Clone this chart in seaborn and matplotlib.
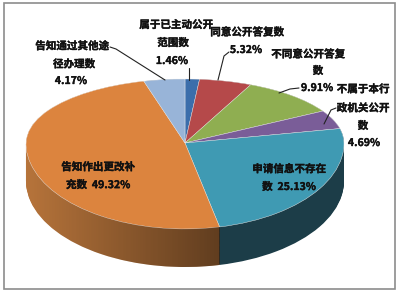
import numpy as np
import matplotlib
matplotlib.use("Agg")
import matplotlib.pyplot as plt
import seaborn as sns
from matplotlib.patches import Rectangle, Polygon
import matplotlib.patheffects as pe

sns.set_theme(style="white")
plt.rcParams['font.family'] = ['Noto Sans CJK SC', 'DejaVu Sans']

# ---- data ----
categories = ["属于已主动公开范围数", "同意公开答复数", "不同意公开答复数",
              "不属于本行政机关公开数", "申请信息不存在数", "告知作出更改补充数",
              "告知通过其他途径办理数"]
values = [1.46, 5.32, 9.91, 4.69, 25.13, 49.32, 4.17]
label_lines = [
    ["属于已主动公开", "范围数", "1.46%"],
    ["同意公开答复数", "5.32%"],
    ["不同意公开答复", "数", "9.91%"],
    ["不属于本行", "政机关公开", "数", "4.69%"],
    ["申请信息不存在", "数  25.13%"],
    ["告知作出更改补", "充数  49.32%"],
    ["告知通过其他途", "径办理数", "4.17%"],
]

top_colors = ['#3b6eab', '#b5494a', '#8fae51', '#7a5d98', '#3f9ab3', '#dc843e', '#98b4d8']
side_colors = ['#24446b', '#72292a', '#56692f', '#4a375d', '#1c3d48', '#c07a3e', '#5d7087']

# ---- geometry in pixels (perspective: far half shorter than near half) ----
W, H = 400, 293
cx, cy, rx = 185, 143, 159
ry_far, ry_near = 64, 86
depth_px = 38
depth = depth_px / ry_near

def fwd(y):
    y = np.asarray(y, dtype=float)
    return np.where(y >= 0, ry_far * y, ry_near * y)

def inv(v):
    v = np.asarray(v, dtype=float)
    return np.where(v >= 0, v / ry_far, v / ry_near)

fig = plt.figure(figsize=(W / 100, H / 100), dpi=100)
fig.patch.set_facecolor('white')
ax = fig.add_axes([0, 0, 1, 1])

# side (extrusion) via stacked pies
for d in np.linspace(depth, 0.0, 45):
    ax.pie(values, colors=side_colors, startangle=90, counterclock=False,
           center=(0, -d), radius=1, frame=True,
           wedgeprops=dict(linewidth=0, antialiased=True))

# top face
wedges, _ = ax.pie(values, colors=top_colors, startangle=90, counterclock=False,
                   center=(0, 0), radius=1, frame=True,
                   wedgeprops=dict(linewidth=0.3, edgecolor='#f0f0f0'))
for w in wedges:
    w.set_zorder(2)

ax.set_aspect('auto')
ax.set_yscale('function', functions=(fwd, inv))
ax.set_xlim(-cx / rx, (W - cx) / rx)
ax.set_ylim(float(inv(cy - H)), float(inv(cy)))
ax.axis('off')

# gradient shading on the front-left side (orange slice)
cum_before = sum(values[:5]) / 100.0
xb = np.sin(2 * np.pi * cum_before)
t = np.linspace(np.pi, 2 * np.pi, 300)
band = np.concatenate([np.c_[np.cos(t), np.sin(t)],
                       np.c_[np.cos(t[::-1]), np.sin(t[::-1]) - depth]])
poly = Polygon(band, closed=True, transform=ax.transData, facecolor='none', edgecolor='none')

ax2 = fig.add_axes([0, 0, 1, 1])
ax2.set_xlim(0, W)
ax2.set_ylim(H, 0)
ax2.axis('off')
ax2.patch.set_visible(False)
x0p, xbp = cx - rx, cx + rx * xb
gx = np.linspace(0, 1, 256)
img = np.zeros((2, 256, 4))
img[..., 3] = (0.05 + 0.45 * gx)[None, :]
im = ax2.imshow(img, extent=[x0p, xbp, H, 100], aspect='auto', interpolation='bilinear')
im.set_clip_path(poly)

# ---- labels (pixel positions of line centres) ----
label_pos = [
    [(176, 25), (173, 43), (172, 61)],
    [(247, 32), (246, 50)],
    [(308, 54), (318, 71), (317, 88)],
    [(363, 89), (363, 108), (363, 126), (364, 143)],
    [(289, 169), (289, 187)],
    [(98, 167), (98, 185)],
    [(72, 46), (74, 64), (71, 81)],
]
stroke = [pe.withStroke(linewidth=0.25, foreground='#111111')]
for lines, poss in zip(label_lines, label_pos):
    for s, (x, y) in zip(lines, poss):
        ax2.text(x, y, s, ha='center', va='center', fontsize=7.6,
                 fontweight='bold', color='#111111', zorder=5, path_effects=stroke)

leaders = [
    [(189, 68), (189, 80)],
    [(229, 52), (224, 56), (218, 80)],
    [(299, 88), (290, 89), (279, 93)],
    [(336, 108), (331, 110), (324, 124)],
    [(110, 47), (116, 49), (165, 80)],
]
for pts in leaders:
    xs, ys = zip(*pts)
    ax2.plot(xs, ys, color='#222222', lw=0.8, zorder=4)

# frame border
ax2.add_patch(Rectangle((4, 3), 391, 286, fill=False, edgecolor='#8c8c8c', linewidth=1.2))

fig.savefig('out.png', dpi=100, facecolor='white')
